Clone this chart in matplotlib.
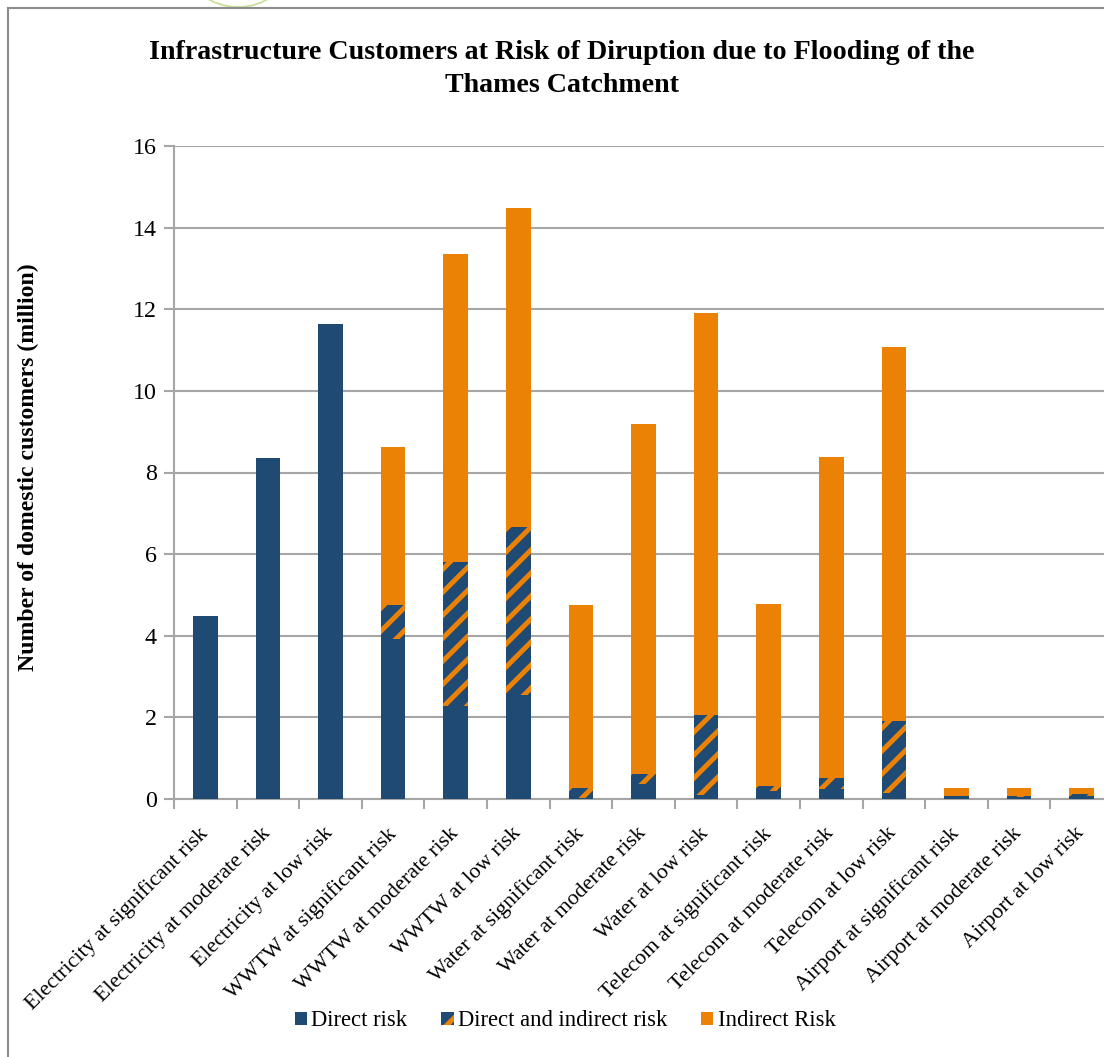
import matplotlib
matplotlib.use("Agg")
import matplotlib.pyplot as plt
from matplotlib.patches import Patch, Ellipse
from matplotlib.lines import Line2D
from matplotlib.transforms import ScaledTranslation
import numpy as np

categories = [
    "Electricity at significant risk", "Electricity at moderate risk", "Electricity at low risk",
    "WWTW at significant risk", "WWTW at moderate risk", "WWTW at low risk",
    "Water at significant risk", "Water at moderate risk", "Water at low risk",
    "Telecom at significant risk", "Telecom at moderate risk", "Telecom at low risk",
    "Airport at significant risk", "Airport at moderate risk", "Airport at low risk",
]
direct = [4.48, 8.35, 11.63, 3.92, 2.28, 2.55, 0.02, 0.37, 0.10, 0.20, 0.25, 0.15, 0.07, 0.06, 0.08]
both = [0.0, 0.0, 0.0, 0.83, 3.53, 4.12, 0.25, 0.24, 1.96, 0.12, 0.26, 1.76, 0.0, 0.02, 0.04]
indirect = [0.0, 0.0, 0.0, 3.88, 7.55, 7.82, 4.48, 8.59, 9.86, 4.46, 7.87, 9.17, 0.20, 0.20, 0.16]
yticks = [0, 2, 4, 6, 8, 10, 12, 14, 16]

BLUE = "#1f4a73"
ORANGE = "#eb8206"
GRID = "#a6a6a6"

plt.rcParams["font.family"] = ["Liberation Serif", "DejaVu Serif"]
plt.rcParams["hatch.color"] = ORANGE
plt.rcParams["hatch.linewidth"] = 2.6

W, H = 1104, 1057
DPI = 138
fig = plt.figure(figsize=(W / DPI, H / DPI), dpi=DPI)
ax = fig.add_axes([174 / W, 1 - 799 / H, (1113 - 174) / W, (799 - 146) / H])

x = np.arange(len(categories)) + 0.5
d = np.array(direct)
b = np.array(both)
w = 0.39
ax.bar(x, d, width=w, color=BLUE, linewidth=0, zorder=3)
ax.bar(x, b, width=w, bottom=d, color=BLUE, edgecolor=ORANGE, hatch="//", linewidth=0, zorder=3)
ax.bar(x, indirect, width=w, bottom=d + b, color=ORANGE, linewidth=0, zorder=3)

ax.set_xlim(0, len(categories))
ax.set_ylim(0, 16)
ax.set_yticks(yticks)
ax.yaxis.grid(True, color=GRID, linewidth=1.1, zorder=0)
ax.tick_params(axis="y", length=5, width=1.1, color=GRID, labelsize=12.5, pad=4)

ax.set_xticks(x)
ax.set_xticklabels(categories, rotation=45, ha="right", rotation_mode="anchor", fontsize=11.5)
ax.set_xticks(np.arange(len(categories) + 1), minor=True)
ax.tick_params(axis="x", which="major", length=0, pad=12)
ax.tick_params(axis="x", which="minor", length=5, width=1.1, color=GRID)
shift = ScaledTranslation(-7 / DPI, -2 / DPI, fig.dpi_scale_trans)
for lbl in ax.get_xticklabels():
    lbl.set_transform(lbl.get_transform() + shift)

for side in ["top", "right"]:
    ax.spines[side].set_visible(False)
for side in ["left", "bottom"]:
    ax.spines[side].set_color(GRID)
    ax.spines[side].set_linewidth(1.1)

fig.text(28 / W, 1 - 467 / H, "Number of domestic customers (million)", rotation=90,
         ha="center", va="center", fontsize=12.4, fontweight="bold")
fig.text(562 / W, 1 - 69 / H,
         "Infrastructure Customers at Risk of Diruption due to Flooding of the\nThames Catchment",
         ha="center", va="center", fontsize=14.6, fontweight="bold", linespacing=1.4)

# chart border and the bit of page decoration above it
fig.add_artist(Line2D([8 / W, 8 / W], [0, 1 - 8 / H], transform=fig.transFigure, color="#8c8c8c", linewidth=1.1))
fig.add_artist(Line2D([8 / W, 1], [1 - 8 / H, 1 - 8 / H], transform=fig.transFigure, color="#8c8c8c", linewidth=1.1))
fig.add_artist(Ellipse((238 / W, 1 + 30 / H), 96 / W, 74 / H, transform=fig.transFigure,
                       fill=False, edgecolor="#c8df98", linewidth=0.9))

handles = [
    Patch(facecolor=BLUE, linewidth=0),
    Patch(facecolor=BLUE, edgecolor=ORANGE, hatch="/", linewidth=0),
    Patch(facecolor=ORANGE, linewidth=0),
]
fig.legend(handles, ["Direct risk", "Direct and indirect risk", "Indirect Risk"],
           loc="center", bbox_to_anchor=(565 / W, 1 - 1021 / H), ncol=3, frameon=False,
           fontsize=11.8, handlelength=0.55, handleheight=0.55, handletextpad=0.18, columnspacing=1.5)

fig.savefig("out.png", dpi=DPI)
